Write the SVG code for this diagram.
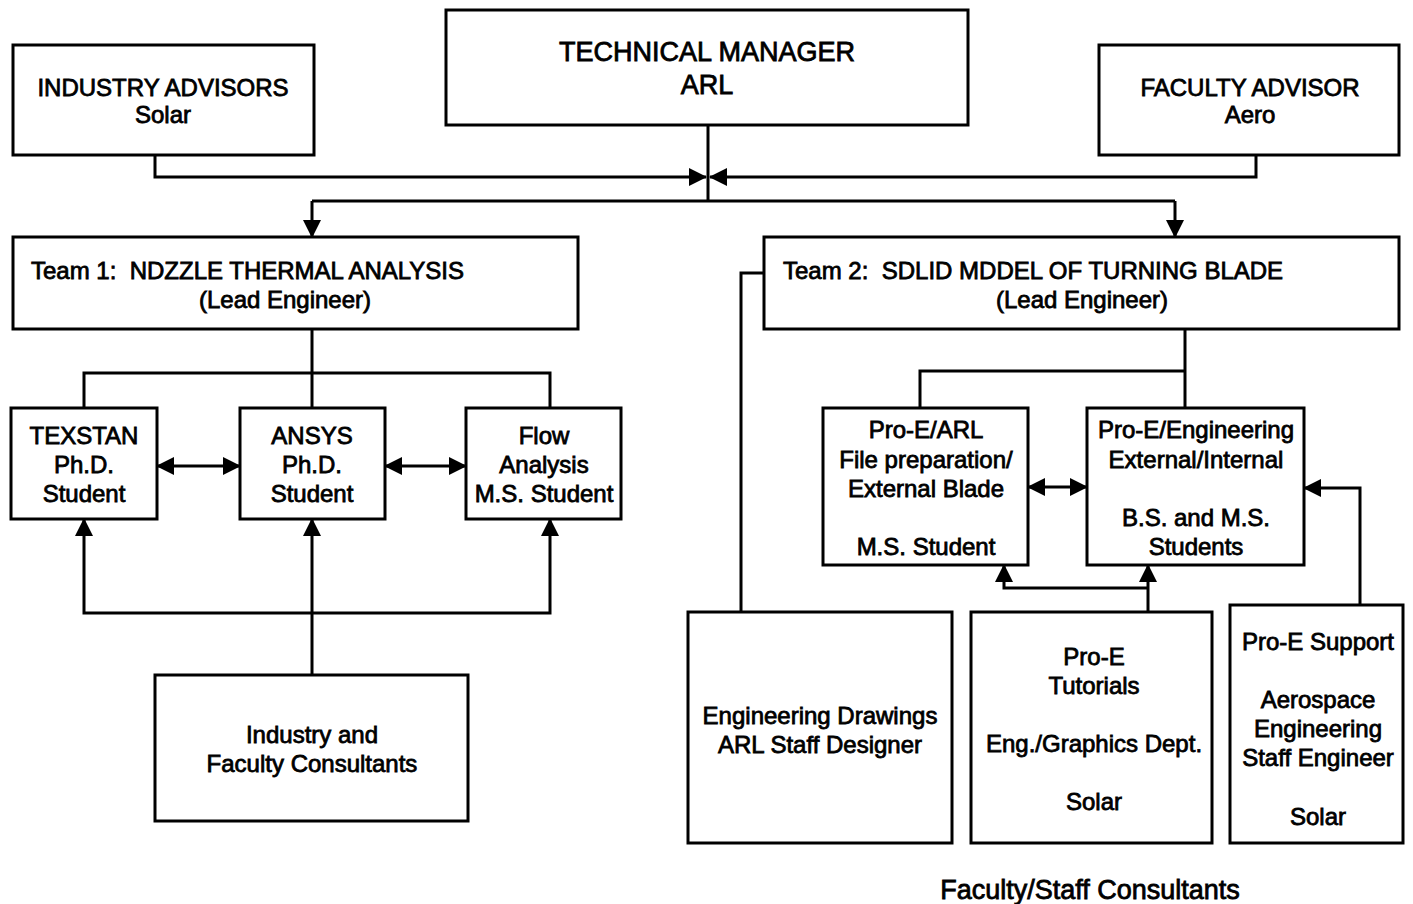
<svg xmlns="http://www.w3.org/2000/svg" width="1413" height="904" viewBox="0 0 1413 904">
<defs>
<marker id="ah" markerUnits="userSpaceOnUse" markerWidth="18" markerHeight="18" refX="17" refY="9" orient="auto-start-reverse" viewBox="0 0 18 18">
<path d="M0,0 L18,9 L0,18 z" fill="#000"/>
</marker>
<style>
rect{fill:#fff;stroke:#000;stroke-width:3}
.c{fill:none;stroke:#000;stroke-width:3}
text{font-family:"Liberation Sans",Arial,sans-serif;font-size:24px;fill:#000;stroke:#000;stroke-width:0.8;text-anchor:middle}
.big{font-size:27px}
.l{text-anchor:start}
</style>
</defs>
<rect x="0" y="0" width="1413" height="904" style="fill:#fff;stroke:none"/>
<g id="connectors">
<path class="c" d="M155,155 V177 H706" marker-end="url(#ah)"/>
<path class="c" d="M1256,155 V177 H710" marker-end="url(#ah)"/>
<path class="c" d="M708,125 V201"/>
<path class="c" d="M312,201 H1175"/>
<path class="c" d="M312,201 V237" marker-end="url(#ah)"/>
<path class="c" d="M1175,201 V237" marker-end="url(#ah)"/>
<path class="c" d="M312,329 V408"/>
<path class="c" d="M84,408 V373 H550 V408"/>
<path class="c" d="M157,466 H240" marker-start="url(#ah)" marker-end="url(#ah)"/>
<path class="c" d="M385,466 H466" marker-start="url(#ah)" marker-end="url(#ah)"/>
<path class="c" d="M312,675 V519" marker-end="url(#ah)"/>
<path class="c" d="M84,519 V613 H550 V519" marker-start="url(#ah)" marker-end="url(#ah)"/>
<path class="c" d="M1185,329 V408"/>
<path class="c" d="M920,408 V371 H1185"/>
<path class="c" d="M1028,487 H1087" marker-start="url(#ah)" marker-end="url(#ah)"/>
<path class="c" d="M1360,605 V488 H1304" marker-end="url(#ah)"/>
<path class="c" d="M1148,612 V565" marker-end="url(#ah)"/>
<path class="c" d="M1148,588 H1004 V565" marker-end="url(#ah)"/>
<path class="c" d="M741,612 V273 H764"/>
</g>
<g id="industry-advisors">
<rect x="13" y="45" width="301" height="110"/>
<text x="163" y="96">INDUSTRY ADVISORS</text>
<text x="163" y="123">Solar</text>
</g>
<g id="technical-manager">
<rect x="446" y="10" width="522" height="115"/>
<text class="big" x="707" y="61">TECHNICAL MANAGER</text>
<text class="big" x="707" y="94">ARL</text>
</g>
<g id="faculty-advisor">
<rect x="1099" y="45" width="300" height="110"/>
<text x="1250" y="96">FACULTY ADVISOR</text>
<text x="1250" y="123">Aero</text>
</g>
<g id="team1">
<rect x="13" y="237" width="565" height="92"/>
<text class="l" x="31" y="279">Team 1:&#160; NDZZLE THERMAL ANALYSIS</text>
<text x="285" y="308">(Lead Engineer)</text>
</g>
<g id="team2">
<rect x="764" y="237" width="635" height="92"/>
<text class="l" x="783" y="279">Team 2:&#160; SDLID MDDEL OF TURNING BLADE</text>
<text x="1082" y="308">(Lead Engineer)</text>
</g>
<g id="texstan">
<rect x="11" y="408" width="146" height="111"/>
<text x="84" y="444">TEXSTAN</text>
<text x="84" y="473">Ph.D.</text>
<text x="84" y="502">Student</text>
</g>
<g id="ansys">
<rect x="240" y="408" width="145" height="111"/>
<text x="312" y="444">ANSYS</text>
<text x="312" y="473">Ph.D.</text>
<text x="312" y="502">Student</text>
</g>
<g id="flow">
<rect x="466" y="408" width="155" height="111"/>
<text x="544" y="444">Flow</text>
<text x="544" y="473">Analysis</text>
<text x="544" y="502">M.S. Student</text>
</g>
<g id="industry-faculty-consultants">
<rect x="155" y="675" width="313" height="146"/>
<text x="312" y="743">Industry and</text>
<text x="312" y="772">Faculty Consultants</text>
</g>
<g id="proe-arl">
<rect x="823" y="408" width="205" height="157"/>
<text x="926" y="438">Pro-E/ARL</text>
<text x="926" y="468">File preparation/</text>
<text x="926" y="497">External Blade</text>
<text x="926" y="555">M.S. Student</text>
</g>
<g id="proe-engineering">
<rect x="1087" y="408" width="217" height="157"/>
<text x="1196" y="438">Pro-E/Engineering</text>
<text x="1196" y="468">External/Internal</text>
<text x="1196" y="526">B.S. and M.S.</text>
<text x="1196" y="555">Students</text>
</g>
<g id="engineering-drawings">
<rect x="688" y="612" width="264" height="231"/>
<text x="820" y="724">Engineering Drawings</text>
<text x="820" y="753">ARL Staff Designer</text>
</g>
<g id="proe-tutorials">
<rect x="971" y="612" width="241" height="231"/>
<text x="1094" y="665">Pro-E</text>
<text x="1094" y="694">Tutorials</text>
<text x="1094" y="752">Eng./Graphics Dept.</text>
<text x="1094" y="810">Solar</text>
</g>
<g id="proe-support">
<rect x="1230" y="605" width="173" height="238"/>
<text x="1318" y="650">Pro-E Support</text>
<text x="1318" y="708">Aerospace</text>
<text x="1318" y="737">Engineering</text>
<text x="1318" y="766">Staff Engineer</text>
<text x="1318" y="825">Solar</text>
</g>
<g id="caption">
<text class="big" x="1090" y="899">Faculty/Staff Consultants</text>
</g>
</svg>
